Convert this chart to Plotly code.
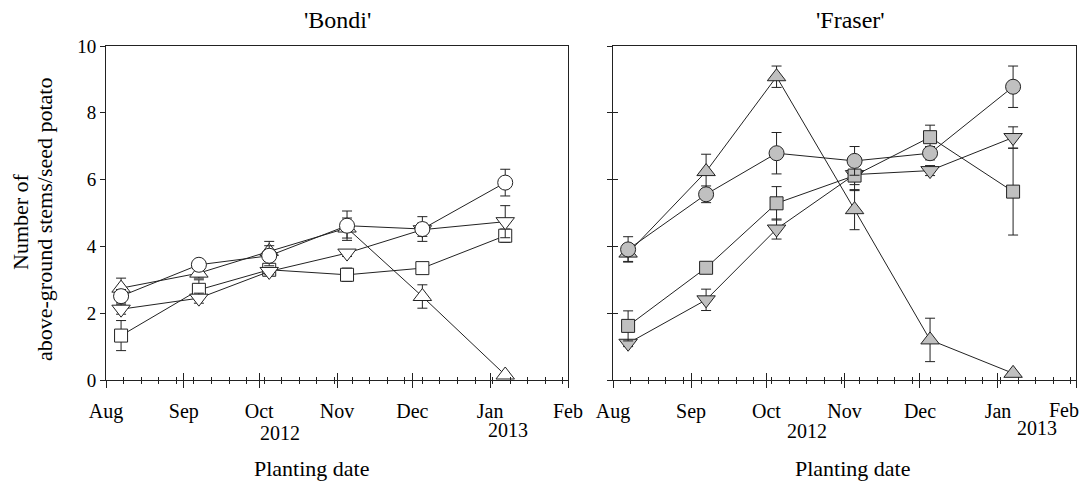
import plotly.graph_objects as go

# ---------------- data ----------------
dates = ["2012-08-07", "2012-09-07", "2012-10-05", "2012-11-05", "2012-12-05", "2013-01-07"]

bondi_circle = [2.51, 3.45, 3.72, 4.62, 4.52, 5.91]
bondi_circle_err = [0.2, 0.1, 0.3, 0.44, 0.37, 0.4]
bondi_up = [2.75, 3.2, 3.85, 4.55, 2.5, 0.15]
bondi_up_err = [0.3, 0.15, 0.3, 0.3, 0.35, 0.0]
bondi_down = [2.12, 2.45, 3.25, 3.8, 4.5, 4.74]
bondi_down_err = [0.15, 0.15, 0.1, 0.1, 0.2, 0.48]
bondi_square = [1.33, 2.7, 3.3, 3.15, 3.35, 4.32]
bondi_square_err = [0.45, 0.3, 0.15, 0.2, 0.1, 0.2]

fraser_circle = [3.91, 5.56, 6.79, 6.56, 6.79, 8.78]
fraser_circle_err = [0.38, 0.25, 0.62, 0.43, 0.2, 0.62]
fraser_up = [3.8, 6.24, 9.08, 5.1, 1.2, 0.2]
fraser_up_err = [0.25, 0.52, 0.32, 0.6, 0.65, 0.0]
fraser_square = [1.62, 3.36, 5.29, 6.12, 7.27, 5.64]
fraser_square_err = [0.45, 0.1, 0.5, 0.45, 0.36, 1.3]
fraser_down = [1.1, 2.4, 4.52, 6.15, 6.27, 7.26]
fraser_down_err = [0.1, 0.32, 0.3, 0.3, 0.15, 0.32]

month_ticks_start = "2012-08-01"
x_range = ["2012-08-01", "2013-02-01"]
y_ticks = [0, 2, 4, 6, 8, 10]
last_month_label = "Feb"

# ---------------- styling ----------------
FONT = "Liberation Serif, Times New Roman, serif"
OFF = 8  # page body margin offset
W, H = 1089 - OFF, 482 - OFF
ML, MT = 106 - OFF, 46 - OFF
MR = W - (1076 - OFF)
MB = H - (380 - OFF)
PW, PH = W - ML - MR, H - MT - MB

def px(xp):
    return (xp - OFF - ML) / PW

def py(yp):
    return (H - MB - (yp - OFF)) / PH

LINE = "#222222"
OPEN_FILL = "white"
GREY_FILL = "#c0c0c0"

sizes = {"circle": 15, "triangle-up": 16, "triangle-down": 16, "square": 13}

fig = go.Figure()

def add_series(xa, ya, y, err, symbol, fill):
    fig.add_trace(go.Scatter(
        x=dates, y=y, xaxis=xa, yaxis=ya, mode="lines+markers",
        line=dict(color=LINE, width=1),
        marker=dict(symbol=symbol, size=sizes[symbol], color=fill,
                    line=dict(color=LINE, width=1)),
        error_y=dict(type="data", array=err, visible=True, color=LINE,
                     thickness=1, width=5),
        showlegend=False, hoverinfo="x+y",
    ))

# Bondi (open symbols)
add_series("x", "y", bondi_square, bondi_square_err, "square", OPEN_FILL)
add_series("x", "y", bondi_down, bondi_down_err, "triangle-down", OPEN_FILL)
add_series("x", "y", bondi_up, bondi_up_err, "triangle-up", OPEN_FILL)
add_series("x", "y", bondi_circle, bondi_circle_err, "circle", OPEN_FILL)

# Fraser (grey filled symbols)
add_series("x2", "y2", fraser_down, fraser_down_err, "triangle-down", GREY_FILL)
add_series("x2", "y2", fraser_square, fraser_square_err, "square", GREY_FILL)
add_series("x2", "y2", fraser_up, fraser_up_err, "triangle-up", GREY_FILL)
add_series("x2", "y2", fraser_circle, fraser_circle_err, "circle", GREY_FILL)

# invisible helpers so overlay (inside-tick) axes are drawn
for xa, ya, yv in [("x3", "y", bondi_circle), ("x4", "y2", fraser_circle), ("x2", "y3", fraser_circle)]:
    fig.add_trace(go.Scatter(x=dates, y=yv, xaxis=xa, yaxis=ya, mode="markers",
                             marker=dict(opacity=0), showlegend=False, hoverinfo="skip"))

dom_left = [0, (568 - OFF - ML) / PW]
dom_right = [(613 - OFF - ML) / PW, 1]

xcommon = dict(
    type="date", range=x_range, tickformat="%b", dtick="M1", tick0=month_ticks_start,
    ticks="outside", ticklen=7, tickwidth=1, tickcolor=LINE, ticklabelstandoff=6,
    showline=True, linecolor=LINE, linewidth=1, mirror=True,
    showgrid=False, zeroline=False,
    tickfont=dict(family=FONT, size=20, color="black"),
    minor=dict(dtick=7 * 86400000, tick0=month_ticks_start, ticks="outside",
               ticklen=3, tickcolor=LINE, showgrid=False),
)
xover = dict(
    type="date", range=x_range, dtick="M1", tick0=month_ticks_start,
    ticks="inside", ticklen=7, tickwidth=1, tickcolor=LINE,
    showticklabels=False, showline=False, showgrid=False, zeroline=False,
    minor=dict(dtick=7 * 86400000, tick0=month_ticks_start, ticks="inside",
               ticklen=3, tickcolor=LINE, showgrid=False),
)
ycommon = dict(
    range=[0, 10], tickvals=y_ticks, ticks="outside", ticklen=5, tickwidth=1,
    tickcolor=LINE, showline=True, linecolor=LINE, linewidth=1, mirror=True,
    showgrid=False, zeroline=False,
    tickfont=dict(family=FONT, size=19, color="black"),
)

fig.update_layout(
    width=W, height=H,
    margin=dict(l=ML, r=MR, t=MT, b=MB, autoexpand=False),
    paper_bgcolor="white", plot_bgcolor="white",
    font=dict(family=FONT, color="black"),
    xaxis=dict(domain=dom_left, anchor="y", **xcommon),
    yaxis=dict(domain=[0, 1], anchor="x", **ycommon),
    xaxis2=dict(domain=dom_right, anchor="y2", ticklabeloverflow="hide past div", **xcommon),
    yaxis2=dict(domain=[0, 1], anchor="x2", showticklabels=False, **ycommon),
    xaxis3=dict(overlaying="x", anchor="y", **xover),
    xaxis4=dict(overlaying="x2", anchor="y2", **xover),
    yaxis3=dict(overlaying="y2", anchor="x2", range=[0, 10], tickvals=y_ticks,
                ticks="inside", ticklen=5, tickcolor=LINE, showticklabels=False,
                showline=False, showgrid=False, zeroline=False),
)

ann = []
def text(s, xp, yp, size, angle=0, xanchor="center"):
    ann.append(dict(text=s, x=px(xp), y=py(yp), xref="paper", yref="paper",
                    xanchor=xanchor, yanchor="middle", showarrow=False,
                    textangle=angle, font=dict(family=FONT, size=size, color="black")))

text("'Bondi'", 337, 20, 24)
text("'Fraser'", 850, 20, 24)
text("2012", 280, 433, 20)
text("2013", 508, 430, 20)
text("2012", 807, 431, 20)
text("2013", 1037, 428, 20)
text(last_month_label, 1081, 410, 20, xanchor="right")
text("Planting date", 311, 468, 22)
text("Planting date", 852, 468, 22)
text("Number of", 21, 222, 22, -90)
text("above-ground stems/seed potato", 44, 219, 22, -90)

fig.update_layout(annotations=ann)

fig.write_html("out.html")
